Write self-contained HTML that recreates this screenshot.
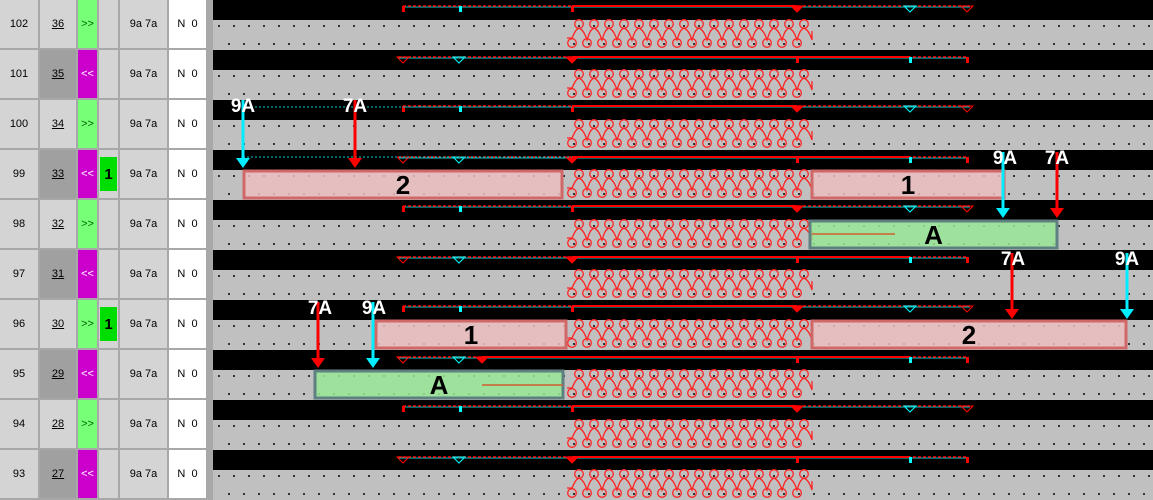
<!DOCTYPE html>
<html><head><meta charset="utf-8"><style>
body{margin:0;width:1153px;height:500px;overflow:hidden;background:#000;font-family:"Liberation Sans",sans-serif}
#tbl{position:absolute;left:0;top:0;width:213px;height:500px;background:#a8a8a8}
.c{position:absolute;height:48px;background:#d4d4d4;font-size:11px;display:flex;align-items:center;justify-content:center;color:#000}
svg{position:absolute;left:0;top:0}
</style></head><body>
<div id="tbl"></div>
<svg id="s" width="1153" height="500" style="left:0"></svg>
<script>
const T=document.getElementById('tbl');
const nums=[102,101,100,99,98,97,96,95,94,93];
let h='';
for(let r=0;r<10;r++){
 const y=r*50, odd=r%2==1;
 const cell=(x,w,txt,st)=>h+=`<div class="c" style="left:${x}px;top:${y}px;width:${w}px;${st||''}">${txt}</div>`;
 cell(0,38,nums[r]);
 cell(40,36,'<u>'+(36-r)+'</u>',odd?'background:#a0a0a0':'');
 cell(78,19,odd?'&lt;&lt;':'&gt;&gt;',odd?'background:#cc00cc;color:#fff':'background:#77ff77;color:#060');
 cell(99,19,(r==3||r==6)?'<div style="background:#00dd00;width:17px;height:34px;display:flex;align-items:center;justify-content:center;font-weight:bold;font-size:15px">1</div>':'');
 cell(120,47,'9a 7a');
 cell(169,37,'N&nbsp;&nbsp;0','background:#fff');
}
T.innerHTML=h;
const S=document.getElementById('s');
let g='<rect x="213" y="0" width="940" height="500" fill="#000"/>';
for(let r=0;r<10;r++){
 const y=r*50, odd=r%2==1;
 g+=`<rect x="213" y="${y+20}" width="940" height="30" fill="#c0c0c0"/>`;
 for(let x=218;x<1153;x+=15){g+=`<rect x="${x}" y="${y+25}" width="2" height="2" fill="#333"/>`;g+=`<rect x="${x+10}" y="${y+43}" width="2" height="2" fill="#333"/>`;}
 let p=`M567 ${y+38} L572 ${y+38}`;
 for(let i=0;i<16;i++){const xb=572+i*15, xt=579+i*15;
   p+=` C${xb+2} ${y+34} ${xt-4} ${y+30} ${xt} ${y+28} C${xt+4} ${y+30} ${xt+6} ${y+34} ${xb+15} ${y+40}`;}
 p+=` L812 ${y+31}`;
 g+=`<path d="${p}" fill="none" stroke="#f22" stroke-width="1.3"/>`;
 for(let i=0;i<16;i++){g+=`<circle cx="${579+i*15}" cy="${y+24}" r="4.3" fill="none" stroke="#f22" stroke-width="1.3"/><circle cx="${572+i*15}" cy="${y+43}" r="4.3" fill="none" stroke="#f22" stroke-width="1.3"/>`;}
 const ty=y+6+(odd?1:0);
 const xs=odd?398:403, xe=odd?967:970;
 g+=`<line x1="${xs}" y1="${ty+1}" x2="${xe}" y2="${ty+1}" stroke="#0cc" stroke-width="1"/><line x1="${xs}" y1="${ty}" x2="${xe}" y2="${ty}" stroke="#f00" stroke-width="1.5" stroke-dasharray="3,2"/>`;
 const solS=(r==7)?482:572, solE=odd?910:797;
 g+=`<line x1="${solS}" y1="${ty}" x2="${solE}" y2="${ty}" stroke="#f00" stroke-width="2"/>`;
 const tick=(x,c)=>g+=`<rect x="${x-1}" y="${ty}" width="3" height="6" fill="${c}"/>`;
 const tri=(x,c,f)=>g+=`<path d="M${x-6} ${ty} L${x+6} ${ty} L${x} ${ty+6}Z" fill="${f?c:'none'}" stroke="${c}"/>`;
 if(!odd){tick(403,'#f00');tick(460,'#0ff');tick(572,'#f00');tri(797,'#f00',1);tri(910,'#0ff',0);tri(967,'#f00',0);}
 else{tri(403,'#f00',0);tri(459,'#0ff',0);tri(r==7?482:572,'#f00',1);tick(797,'#f00');tick(910,'#0ff');tick(967,'#f00');}
}
const box=(x1,x2,r,t,green)=>{const y=r*50+21;g+=`<rect x="${x1}" y="${y}" width="${x2-x1}" height="27" fill="${green?'rgba(150,230,150,.85)':'rgba(235,190,190,.85)'}" stroke="${green?'#5f8080':'#d06868'}" stroke-width="3"/><text x="${(x1+x2)/2}" y="${y+23}" font-size="26" font-weight="bold" text-anchor="middle">${t}</text>`;};
box(244,562,3,'2');box(812,1004,3,'1');box(810,1057,4,'A',1);box(376,566,6,'1');box(812,1126,6,'2');box(315,563,7,'A',1);
g+=`<line x1="812" y1="234" x2="895" y2="234" stroke="#d06030" stroke-width="1.5"/><line x1="482" y1="385" x2="563" y2="385" stroke="#d06030" stroke-width="1.5"/>`;
const arr=(x,y1,y2,c,lab,lx)=>{g+=`<line x1="${x}" y1="${y1}" x2="${x}" y2="${y2-8}" stroke="${c}" stroke-width="3"/><path d="M${x-7} ${y2-10} L${x+7} ${y2-10} L${x} ${y2}Z" fill="${c}"/><text x="${lx}" y="${y1+12}" font-size="19" font-weight="bold" fill="#fff" text-anchor="middle">${lab}</text>`;};
g+=`<line x1="243" y1="107" x2="572" y2="107" stroke="#0cc" stroke-dasharray="2,2"/><line x1="243" y1="157" x2="572" y2="157" stroke="#0cc" stroke-dasharray="2,2"/>`;
arr(243,100,168,'#0ef','9A',243);arr(355,100,168,'#f00','7A',355);
arr(1003,152,218,'#0ef','9A',1005);arr(1057,152,218,'#f00','7A',1057);
arr(1012,253,319,'#f00','7A',1013);arr(1127,253,319,'#0ef','9A',1127);
arr(318,302,368,'#f00','7A',320);arr(373,302,368,'#0ef','9A',374);
S.innerHTML=g;
</script>
</body></html>
